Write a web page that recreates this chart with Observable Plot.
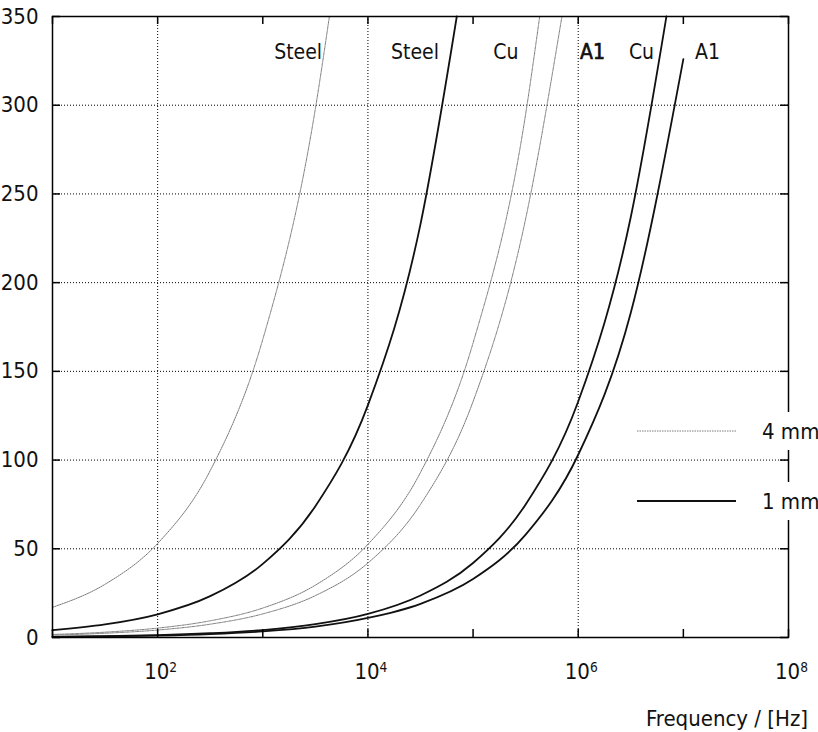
<!DOCTYPE html>
<html><head><meta charset="utf-8">
<script src="https://cdn.jsdelivr.net/npm/d3@7"></script>
<script src="https://cdn.jsdelivr.net/npm/@observablehq/plot@0.6"></script>
<style>
body{margin:0;background:#fff;}
</style></head><body><div id="chart"></div>
<script>
// ---- data ----
const steel4mmF = [10, 31.6, 100, 316, 1000, 3162, 4300];
const steel4mmV = [17, 30, 53, 94, 168, 298, 350];
const steel1mmF = [10, 31.6, 100, 316, 1000, 3162, 10000, 31623, 70000];
const steel1mmV = [4.2, 7.4, 13.1, 23.3, 41.5, 74, 131, 233, 350];
const cu4mmF = [10, 31.6, 100, 316, 1000, 3162, 1e4, 31623, 1e5, 316228, 430000];
const cu4mmV = [1.7, 3, 5.3, 9.4, 16.6, 29.5, 52.5, 93, 166, 295, 350];
const al4mmF = [10, 31.6, 100, 316, 1000, 3162, 1e4, 31623, 1e5, 316228, 700000];
const al4mmV = [1.3, 2.4, 4.2, 7.5, 13.3, 23.6, 42, 75, 133, 236, 350];
const cu1mmF = [10, 31.6, 100, 316, 1000, 3162, 1e4, 31623, 1e5, 316228, 1e6, 3162278, 6900000];
const cu1mmV = [0.4, 0.75, 1.3, 2.4, 4.2, 7.5, 13.3, 23.7, 42, 75, 133, 237, 350];
const al1mmF = [10, 31.6, 100, 316, 1000, 3162, 1e4, 31623, 1e5, 316228, 1e6, 3162278, 1e7];
const al1mmV = [0.33, 0.6, 1.05, 1.9, 3.4, 6.1, 11, 19, 33, 58, 103, 183, 326];

const labelText = ["Steel", "Steel", "Cu", "A1", "Cu", "A1"];
const labelFreq = [2170, 28000, 205000, 1370000, 4000000, 17000000];
const labelValue = [330, 330, 330, 330, 330, 330];

const yTicks = [0, 50, 100, 150, 200, 250, 300, 350];
const xLabelTicks = [1e2, 1e4, 1e6, 1e8];
const xTicks = [1e1, 1e2, 1e3, 1e4, 1e5, 1e6, 1e7, 1e8];
const xGrid = [1e2, 1e4, 1e6];
const legendText = ["4 mm", "1 mm"];
const xTitle = "Frequency / [Hz]";

// ---- build table ----
const series = [
  {f: steel4mmF, v: steel4mmV, t: "4 mm", id: "steel4"},
  {f: steel1mmF, v: steel1mmV, t: "1 mm", id: "steel1"},
  {f: cu4mmF, v: cu4mmV, t: "4 mm", id: "cu4"},
  {f: al4mmF, v: al4mmV, t: "4 mm", id: "al4"},
  {f: cu1mmF, v: cu1mmV, t: "1 mm", id: "cu1"},
  {f: al1mmF, v: al1mmV, t: "1 mm", id: "al1"}
];
const rows = series.flatMap(s => s.f.map((f, j) => ({f, v: s.v[j], t: s.t, id: s.id})));
const labels = labelText.map((text, i) => ({text, f: labelFreq[i], v: labelValue[i], bold: i === 3}));

const W = 818, H = 732, ML = 52, MR = 30, MT = 16, MB = 95;
const IW = W - ML - MR, IH = H - MT - MB;
const FONT = '"Liberation Sans Narrow","DejaVu Sans Condensed","Arial Narrow",sans-serif';

const plot = Plot.plot({
  width: W, height: H,
  marginLeft: ML, marginRight: MR, marginTop: MT, marginBottom: MB,
  style: {fontFamily: FONT, fontSize: "22px", background: "#fff", color: "#111"},
  x: {type: "log", domain: [10, 1e8]},
  y: {domain: [0, 350]},
  marks: [
    Plot.ruleY(yTicks.slice(1), {stroke: "#000", strokeWidth: 1, strokeDasharray: "1,2"}),
    Plot.ruleX(xGrid, {stroke: "#000", strokeWidth: 1, strokeDasharray: "1,2"}),
    Plot.line(rows.filter(d => d.t === "4 mm"), {x: "f", y: "v", z: "id", curve: "monotone-x", stroke: "#7a7a7a", strokeWidth: 1, strokeDasharray: "1.5,1"}),
    Plot.line(rows.filter(d => d.t === "1 mm"), {x: "f", y: "v", z: "id", curve: "monotone-x", stroke: "#111", strokeWidth: 1.8}),
    Plot.frame({stroke: "#000", strokeWidth: 1.5}),
    // inward tick marks
    Plot.tickY(yTicks, {y: d => d, insetRight: IW - 8, stroke: "#000", strokeWidth: 1.5}),
    Plot.tickY(yTicks, {y: d => d, insetLeft: IW - 8, stroke: "#000", strokeWidth: 1.5}),
    Plot.tickX(xTicks, {x: d => d, insetTop: IH - 8, stroke: "#000", strokeWidth: 1.5}),
    Plot.tickX(xTicks, {x: d => d, insetBottom: IH - 8, stroke: "#000", strokeWidth: 1.5}),
    Plot.axisY(yTicks, {tickSize: 0, tickPadding: 14, label: null, fontSize: 22}),
    Plot.axisX(xLabelTicks, {tickSize: 0, tickPadding: 26, label: null, fontSize: 22, tickFormat: d => String(Math.round(Math.log10(d)))}),
    Plot.text(labels.filter(d => !d.bold), {x: "f", y: "v", text: "text", fontSize: 21, fill: "#111"}),
    Plot.text(labels.filter(d => d.bold), {x: "f", y: "v", text: "text", fontSize: 21, fill: "#111", stroke: "#111", strokeWidth: 0.7})
  ]
});

const svg = d3.select(plot);
// superscript exponents
svg.selectAll('g[aria-label="x-axis tick label"] text').each(function() {
  const e = this.textContent;
  const t = d3.select(this);
  t.text("10").attr("dx", 3);
  t.append("tspan").attr("dy", "-0.55em").attr("font-size", "0.62em").text(e);
});

// legend
const leg = svg.append("g").attr("text-anchor", "start");
const legY = [431, 501];
legendText.forEach((txt, i) => {
  leg.append("line").attr("x1", 637).attr("x2", 736).attr("y1", legY[i]).attr("y2", legY[i])
    .attr("stroke", i === 0 ? "#7a7a7a" : "#111")
    .attr("stroke-width", i === 0 ? 1 : 1.8)
    .attr("stroke-dasharray", i === 0 ? "1.5,1" : null);
  leg.append("rect").attr("x", 754).attr("y", legY[i] - 19).attr("width", 64).attr("height", 38).attr("fill", "#fff");
  leg.append("text").attr("x", 762).attr("y", legY[i]).attr("dy", "0.36em")
    .attr("text-anchor", "start").attr("font-size", 22).attr("fill", "#111").text(txt);
});
// x title
svg.append("text").attr("x", 808).attr("y", 726).attr("text-anchor", "end")
  .attr("font-size", 22).attr("fill", "#111").text(xTitle);

document.getElementById("chart").appendChild(plot);
</script>
</body></html>
